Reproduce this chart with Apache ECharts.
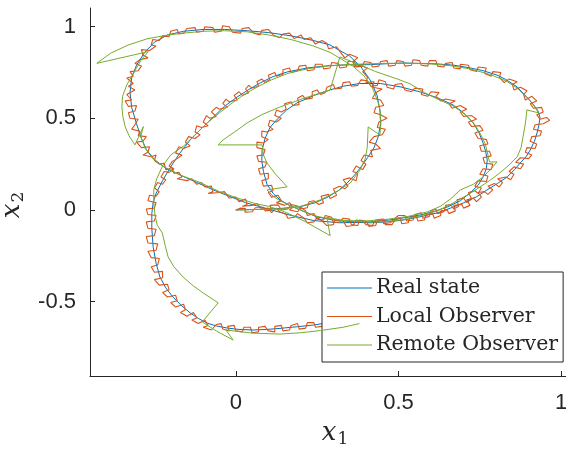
<!DOCTYPE html>
<html>
<head>
<meta charset="utf-8">
<script src="https://cdn.jsdelivr.net/npm/echarts@6/dist/echarts.min.js"></script>
<style>
html,body{margin:0;padding:0;background:#fff;}
#chart{width:566px;height:450px;}
</style>
</head>
<body>
<div id="chart"></div>
<script>
const seriesNames = ['Real state', 'Local Observer', 'Remote Observer'];
const xTicks = [0, 0.5, 1];
const yTicks = [-0.5, 0, 0.5, 1];

const realState = [
[0.0,0.0],[0.07,0.003],[0.136,0.008],[0.198,0.018],[0.245,0.04],[0.28,0.068],[0.315,0.105],[0.342,0.147],[0.365,0.19],[0.385,0.235],[0.405,0.285],[0.425,0.34],[0.438,0.4],[0.445,0.47],[0.443,0.546],[0.434,0.627],[0.413,0.709],[0.385,0.78],[0.35,0.84],[0.29,0.9],[0.238,0.925],[0.17,0.95],[0.1,0.968],[0.035,0.978],[-0.035,0.985],[-0.1,0.985],[-0.16,0.975],[-0.21,0.955],[-0.25,0.915],[-0.28,0.86],[-0.305,0.79],[-0.32,0.72],[-0.325,0.64],[-0.32,0.56],[-0.305,0.47],[-0.29,0.39],[-0.275,0.33],[-0.25,0.275],[-0.215,0.228],[-0.17,0.19],[-0.12,0.15],[-0.07,0.11],[-0.02,0.075],[0.03,0.04],[0.08,0.015],[0.12,-0.005],[0.17,-0.03],[0.24,-0.058],[0.32,-0.07],[0.41,-0.066],[0.47,-0.055],
[0.52,-0.042],[0.567,-0.027],[0.61,-0.008],[0.65,0.016],[0.69,0.05],[0.72,0.093],[0.745,0.135],[0.76,0.18],[0.77,0.225],[0.773,0.273],[0.768,0.32],[0.76,0.366],[0.748,0.42],[0.73,0.475],[0.7,0.53],[0.668,0.573],[0.62,0.612],[0.567,0.644],[0.505,0.672],[0.445,0.69],[0.38,0.69],[0.33,0.675],[0.29,0.655],[0.24,0.625],[0.188,0.584],[0.156,0.545],[0.13,0.5],[0.105,0.45],[0.09,0.39],[0.081,0.327],[0.08,0.27],[0.085,0.21],[0.096,0.14],[0.115,0.09],[0.136,0.055],[0.165,0.025],[0.198,0.0],[0.25,-0.038],[0.3,-0.055],[0.37,-0.066],[0.413,-0.07],
[0.465,-0.065],[0.515,-0.055],[0.57,-0.036],[0.619,-0.016],[0.66,0.01],[0.699,0.038],[0.74,0.072],[0.772,0.109],[0.805,0.145],[0.834,0.18],[0.857,0.22],[0.874,0.256],[0.892,0.29],[0.905,0.327],[0.918,0.375],[0.926,0.42],[0.932,0.465],[0.935,0.505],[0.929,0.54],[0.915,0.575],[0.9,0.605],[0.865,0.671],[0.83,0.712],[0.803,0.736],[0.76,0.76],[0.72,0.775],[0.67,0.79],[0.619,0.797],[0.565,0.8],[0.515,0.802],[0.465,0.798],[0.414,0.793],[0.35,0.792],[0.29,0.788],[0.22,0.775],[0.158,0.753],[0.115,0.728],[0.075,0.693],[0.04,0.657],[0.004,0.616],[-0.035,0.565],[-0.069,0.507],[-0.105,0.445],[-0.14,0.382],[-0.172,0.31],[-0.2,0.235],[-0.225,0.16],[-0.245,0.09],[-0.254,0.04],[-0.258,-0.02],
[-0.258,-0.1],[-0.254,-0.2],[-0.245,-0.29],[-0.233,-0.366],[-0.215,-0.425],[-0.193,-0.475],[-0.168,-0.52],[-0.14,-0.562],[-0.115,-0.592],[-0.088,-0.617],[-0.06,-0.633],[-0.027,-0.644],[0.01,-0.652],[0.053,-0.655],[0.095,-0.652],[0.136,-0.646],[0.19,-0.637],[0.238,-0.628],[0.268,-0.62],[0.32,-0.605],[0.37,-0.585]
];

const localObserver = [
[0.0,0.0],[0.015,0.01],[0.03,0.008],[0.028,-0.012],[0.05,-0.01],[0.06,0.012],[0.085,0.015],[0.09,-0.005],[0.11,-0.002],[0.105,0.025],[0.13,0.028],[0.14,0.0],[0.16,0.005],[0.17,0.03],[0.19,0.022],[0.2,0.005],
[0.22,0.012],[0.225,0.045],[0.24,0.05],[0.255,0.03],[0.27,0.04],[0.262,0.075],[0.285,0.085],[0.29,0.062],
[0.31,0.08],[0.3,0.115],[0.32,0.13],[0.335,0.115],[0.345,0.13],[0.33,0.165],[0.35,0.175],
[0.37,0.16],[0.375,0.2],[0.36,0.21],[0.37,0.24],[0.39,0.22],[0.4,0.25],
[0.385,0.27],[0.395,0.3],[0.42,0.29],[0.415,0.325],[0.445,0.335],[0.43,0.36],[0.41,0.37],
[0.425,0.4],[0.45,0.41],[0.46,0.44],[0.435,0.45],[0.44,0.48],[0.465,0.5],
[0.445,0.52],[0.425,0.53],[0.43,0.56],[0.455,0.57],
[0.445,0.6],[0.42,0.61],[0.43,0.64],[0.45,0.66],[0.42,0.67],[0.425,0.7],[0.4,0.695],[0.405,0.725],
[0.39,0.755],[0.405,0.775],[0.38,0.79],[0.365,0.78],[0.36,0.81],[0.375,0.83],[0.35,0.85],[0.335,0.83],
[0.32,0.865],[0.31,0.89],[0.285,0.88],[0.28,0.91],[0.265,0.925],
[0.245,0.905],[0.23,0.94],[0.21,0.93],[0.2,0.955],[0.18,0.935],[0.165,0.965],[0.145,0.96],
[0.135,0.94],[0.115,0.955],[0.1,0.985],[0.08,0.98],[0.075,0.955],[0.055,0.965],[0.04,0.995],[0.02,0.99],[0.015,0.965],
[-0.01,0.97],[-0.02,1.0],[-0.04,1.005],[-0.045,0.975],[-0.065,0.97],[-0.07,0.995],[-0.095,1.0],[-0.1,0.975],[-0.12,0.97],[-0.125,0.995],
[-0.15,0.99],[-0.16,0.965],[-0.175,0.96],[-0.18,0.985],[-0.2,0.975],[-0.205,0.945],[-0.225,0.95],
[-0.235,0.925],[-0.255,0.93],[-0.26,0.9],[-0.245,0.895],[-0.265,0.87],[-0.29,0.875],[-0.285,0.845],
[-0.27,0.83],[-0.295,0.82],[-0.31,0.8],[-0.29,0.785],[-0.3,0.76],[-0.325,0.755],[-0.315,0.73],[-0.335,0.72],
[-0.315,0.69],[-0.33,0.675],[-0.31,0.655],[-0.335,0.63],[-0.32,0.6],[-0.34,0.595],[-0.33,0.565],[-0.305,0.57],[-0.31,0.54],
[-0.33,0.53],[-0.325,0.5],[-0.3,0.495],[-0.31,0.465],[-0.32,0.44],[-0.295,0.43],[-0.3,0.405],[-0.275,0.4],[-0.285,0.375],[-0.305,0.37],
[-0.29,0.34],[-0.265,0.345],[-0.27,0.315],[-0.285,0.3],[-0.26,0.29],[-0.245,0.3],[-0.25,0.27],
[-0.235,0.25],[-0.22,0.255],[-0.215,0.22],[-0.195,0.225],[-0.19,0.2],[-0.175,0.205],[-0.165,0.18],[-0.18,0.17],
[-0.15,0.16],[-0.135,0.17],[-0.12,0.14],[-0.105,0.15],[-0.095,0.125],[-0.075,0.13],[-0.07,0.1],[-0.085,0.09],
[-0.05,0.095],[-0.035,0.1],[-0.02,0.065],[0.0,0.07],[0.01,0.045],[0.03,0.06],[0.035,0.03],[0.02,0.02],
[0.05,0.025],[0.065,0.035],[0.08,0.005],[0.1,0.01],[0.11,-0.015],[0.125,0.01],[0.135,-0.01],
[0.155,-0.025],[0.16,-0.045],[0.18,-0.04],[0.19,-0.02],[0.21,-0.045],[0.22,-0.07],[0.24,-0.065],[0.25,-0.04],[0.265,-0.06],
[0.28,-0.085],[0.3,-0.08],[0.305,-0.055],[0.33,-0.06],[0.34,-0.09],[0.36,-0.085],[0.37,-0.055],[0.39,-0.06],[0.4,-0.08],[0.42,-0.085],[0.43,-0.055],[0.45,-0.05],[0.455,-0.075],[0.475,-0.07],
[0.49,-0.045],[0.5,-0.03],[0.52,-0.03],[0.525,-0.06],[0.545,-0.055],[0.55,-0.025],[0.57,-0.015],[0.575,-0.045],[0.595,-0.035],[0.6,-0.005],[0.615,0.005],[0.62,-0.02],
[0.64,-0.01],[0.645,0.025],[0.66,0.03],[0.67,0.005],[0.685,0.02],[0.68,0.055],[0.7,0.065],[0.71,0.04],[0.725,0.06],[0.715,0.095],[0.735,0.105],
[0.745,0.09],[0.755,0.12],[0.735,0.13],[0.745,0.16],[0.77,0.155],[0.775,0.185],[0.75,0.195],[0.76,0.225],[0.785,0.22],
[0.79,0.25],[0.765,0.255],[0.76,0.285],[0.785,0.295],[0.78,0.32],[0.755,0.32],[0.75,0.35],[0.775,0.36],[0.77,0.385],
[0.745,0.39],[0.735,0.42],[0.76,0.435],[0.75,0.46],[0.725,0.455],[0.715,0.48],[0.74,0.495],
[0.725,0.515],[0.7,0.51],[0.69,0.535],[0.71,0.55],[0.69,0.57],[0.665,0.555],[0.655,0.58],[0.675,0.595],
[0.645,0.605],[0.63,0.595],[0.615,0.62],[0.625,0.64],[0.6,0.645],[0.59,0.62],[0.57,0.63],[0.575,0.66],[0.55,0.665],
[0.54,0.645],[0.52,0.655],[0.51,0.69],[0.49,0.685],[0.485,0.66],[0.465,0.67],[0.46,0.7],[0.44,0.71],[0.435,0.68],
[0.415,0.675],[0.405,0.705],[0.385,0.71],[0.375,0.68],[0.355,0.675],[0.35,0.7],[0.33,0.695],[0.325,0.665],[0.305,0.66],[0.3,0.685],[0.28,0.67],
[0.275,0.64],[0.26,0.63],[0.25,0.655],[0.235,0.645],[0.235,0.61],[0.215,0.605],[0.205,0.625],[0.19,0.61],[0.195,0.575],[0.175,0.57],
[0.17,0.59],[0.15,0.58],[0.155,0.55],[0.14,0.535],[0.125,0.545],[0.12,0.515],[0.14,0.5],[0.125,0.48],
[0.105,0.49],[0.1,0.46],[0.115,0.44],[0.095,0.425],[0.08,0.43],[0.08,0.4],[0.1,0.385],[0.085,0.365],
[0.065,0.37],[0.065,0.34],[0.09,0.33],[0.085,0.3],[0.065,0.295],[0.07,0.265],[0.095,0.26],
[0.09,0.235],[0.07,0.225],[0.075,0.195],[0.1,0.2],[0.1,0.17],[0.08,0.16],[0.085,0.13],[0.11,0.135],
[0.115,0.105],[0.1,0.095],[0.11,0.07],[0.13,0.08],[0.14,0.05],[0.125,0.04],
[0.15,0.025],[0.165,0.04],[0.175,0.015],[0.165,0.0],[0.19,-0.01],[0.2,0.015],[0.215,-0.005],
[0.22,-0.03],[0.24,-0.02],[0.25,-0.05],[0.27,-0.055],[0.275,-0.03],[0.295,-0.04],[0.3,-0.07],[0.32,-0.065],
[0.33,-0.045],[0.35,-0.05],[0.355,-0.08],[0.375,-0.085],[0.38,-0.055],[0.4,-0.06],[0.41,-0.09],
[0.43,-0.085],[0.435,-0.06],[0.455,-0.05],[0.46,-0.08],[0.48,-0.08],[0.49,-0.055],[0.505,-0.045],[0.51,-0.075],[0.53,-0.07],
[0.535,-0.04],[0.555,-0.035],[0.56,-0.06],[0.58,-0.055],[0.585,-0.025],[0.605,-0.02],[0.61,-0.045],[0.63,-0.03],
[0.63,-0.005],[0.65,0.0],[0.655,-0.02],[0.675,-0.005],[0.67,0.025],[0.695,0.03],[0.7,0.01],[0.72,0.025],
[0.71,0.055],[0.73,0.065],[0.74,0.045],[0.755,0.07],[0.745,0.095],[0.765,0.1],[0.775,0.085],[0.79,0.11],
[0.775,0.13],[0.795,0.145],[0.81,0.125],[0.82,0.15],[0.805,0.17],[0.83,0.18],[0.845,0.165],
[0.855,0.195],[0.84,0.21],[0.855,0.235],[0.875,0.225],[0.885,0.25],[0.86,0.26],
[0.875,0.285],[0.9,0.28],[0.91,0.3],[0.89,0.315],[0.895,0.34],[0.92,0.335],
[0.925,0.36],[0.905,0.375],[0.91,0.4],[0.935,0.405],[0.94,0.43],[0.915,0.44],
[0.92,0.465],[0.945,0.47],[0.965,0.49],[0.955,0.505],[0.935,0.495],[0.925,0.52],
[0.945,0.535],[0.94,0.56],[0.915,0.555],[0.905,0.58],[0.925,0.595],[0.91,0.62],[0.89,0.6],
[0.885,0.63],[0.895,0.65],[0.875,0.67],[0.855,0.655],[0.85,0.685],[0.865,0.7],[0.84,0.715],[0.825,0.695],
[0.81,0.725],[0.815,0.75],[0.79,0.755],[0.785,0.73],[0.765,0.745],[0.77,0.775],[0.745,0.78],[0.74,0.755],
[0.72,0.765],[0.715,0.79],[0.69,0.795],[0.69,0.77],[0.67,0.775],[0.665,0.805],[0.645,0.8],
[0.64,0.78],[0.62,0.785],[0.615,0.815],[0.595,0.815],[0.59,0.785],[0.57,0.79],[0.565,0.815],[0.545,0.82],
[0.54,0.79],[0.52,0.785],[0.515,0.81],[0.495,0.815],[0.49,0.79],[0.47,0.785],[0.465,0.815],[0.445,0.81],
[0.44,0.785],[0.42,0.78],[0.415,0.805],[0.395,0.81],[0.39,0.785],[0.37,0.78],[0.365,0.81],[0.345,0.81],[0.34,0.78],
[0.32,0.775],[0.315,0.8],[0.295,0.805],[0.29,0.775],[0.27,0.77],[0.265,0.795],[0.245,0.795],[0.24,0.765],[0.22,0.76],[0.215,0.79],
[0.195,0.785],[0.19,0.76],[0.17,0.75],[0.165,0.775],[0.145,0.765],[0.145,0.74],[0.125,0.73],[0.12,0.75],[0.1,0.735],
[0.105,0.71],[0.09,0.695],[0.08,0.715],[0.065,0.7],[0.07,0.675],[0.05,0.665],[0.04,0.68],[0.03,0.66],
[0.04,0.64],[0.02,0.625],[0.01,0.645],[-0.005,0.625],[0.005,0.6],[-0.02,0.59],[-0.03,0.605],[-0.04,0.58],[-0.025,0.56],
[-0.05,0.55],[-0.06,0.56],[-0.075,0.535],[-0.06,0.51],[-0.08,0.5],[-0.09,0.515],[-0.1,0.48],[-0.085,0.46],[-0.105,0.45],[-0.12,0.46],
[-0.125,0.425],[-0.11,0.41],[-0.125,0.39],[-0.145,0.4],[-0.155,0.37],[-0.14,0.35],[-0.16,0.335],[-0.175,0.345],[-0.185,0.31],[-0.165,0.3],
[-0.18,0.28],[-0.195,0.265],[-0.205,0.24],[-0.19,0.225],[-0.205,0.205],[-0.22,0.21],[-0.23,0.18],[-0.215,0.165],[-0.225,0.14],[-0.24,0.15],
[-0.25,0.12],[-0.235,0.1],[-0.245,0.075],[-0.265,0.08],[-0.27,0.05],[-0.245,0.04],[-0.25,0.01],[-0.275,0.005],[-0.27,-0.025],[-0.245,-0.03],
[-0.25,-0.06],[-0.275,-0.065],[-0.27,-0.1],[-0.245,-0.105],[-0.25,-0.14],[-0.275,-0.145],[-0.27,-0.18],[-0.24,-0.185],[-0.245,-0.22],[-0.27,-0.225],
[-0.26,-0.26],[-0.235,-0.265],[-0.24,-0.3],[-0.26,-0.31],[-0.25,-0.34],[-0.225,-0.335],[-0.225,-0.37],[-0.25,-0.38],
[-0.235,-0.41],[-0.21,-0.405],[-0.205,-0.435],[-0.225,-0.45],[-0.21,-0.475],[-0.185,-0.465],[-0.18,-0.495],
[-0.2,-0.505],[-0.185,-0.53],[-0.16,-0.515],[-0.155,-0.545],[-0.17,-0.56],[-0.15,-0.58],[-0.13,-0.56],
[-0.12,-0.59],[-0.135,-0.6],[-0.115,-0.62],[-0.095,-0.6],[-0.085,-0.63],[-0.1,-0.64],
[-0.075,-0.655],[-0.06,-0.625],[-0.045,-0.62],[-0.04,-0.65],[-0.02,-0.66],[-0.025,-0.635],[-0.005,-0.63],
[0.0,-0.66],[0.02,-0.665],[0.025,-0.64],[0.045,-0.64],[0.05,-0.67],[0.07,-0.665],[0.07,-0.64],
[0.09,-0.635],[0.1,-0.66],[0.12,-0.665],[0.12,-0.635],[0.14,-0.63],[0.145,-0.66],
[0.165,-0.655],[0.17,-0.63],[0.19,-0.62],[0.195,-0.65],[0.215,-0.645],[0.22,-0.615],[0.24,-0.615],[0.245,-0.64],
[0.265,-0.635],[0.27,-0.605],[0.29,-0.6],[0.295,-0.63],[0.32,-0.62],[0.325,-0.59],[0.35,-0.585],[0.37,-0.6]
];

const remoteObserver = [
[0.0,0.0],[0.07,0.003],[0.14,0.006],[0.2,0.02],[0.26,0.055],[0.31,0.1],[0.352,0.147],[0.382,0.218],[0.398,0.28],[0.404,0.34],[0.407,0.453],
[0.443,0.409],[0.446,0.47],[0.445,0.53],[0.437,0.59],[0.42,0.665],[0.395,0.73],[0.36,0.785],[0.29,0.86],[0.238,0.895],[0.17,0.93],[0.1,0.955],[0.035,0.972],[-0.035,0.978],[-0.1,0.975],[-0.16,0.965],[-0.207,0.955],[-0.27,0.935],[-0.331,0.9],[-0.385,0.855],[-0.427,0.8],
[-0.269,0.864],[-0.29,0.82],[-0.31,0.76],[-0.335,0.682],[-0.348,0.62],[-0.35,0.564],[-0.347,0.51],[-0.34,0.455],[-0.328,0.405],[-0.31,0.355],
[-0.284,0.455],[-0.292,0.4],[-0.278,0.335],[-0.255,0.28],[-0.22,0.235],[-0.17,0.19],[-0.11,0.15],[-0.05,0.1],[0.0,0.068],[0.06,0.035],[0.1,0.02],[0.136,0.0],[0.175,-0.03],[0.215,-0.065],[0.25,-0.1],[0.29,-0.14],
[0.28,-0.04],[0.33,-0.058],[0.4,-0.06],[0.47,-0.05],[0.53,-0.035],[0.59,-0.01],[0.629,0.02],[0.66,0.06],[0.69,0.109],[0.73,0.14],[0.76,0.18],[0.785,0.225],[0.803,0.262],
[0.78,0.262],[0.775,0.3],[0.767,0.36],[0.752,0.415],[0.733,0.47],[0.702,0.525],[0.668,0.568],[0.62,0.605],[0.58,0.64],[0.536,0.688],[0.496,0.715],[0.43,0.755],[0.37,0.8],[0.32,0.835],
[0.29,0.655],[0.21,0.61],[0.136,0.562],[0.08,0.52],[0.035,0.475],[0.0,0.43],[-0.039,0.382],[-0.054,0.355],
[0.081,0.355],[0.085,0.3],[0.096,0.256],[0.12,0.2],[0.158,0.126],
[0.096,0.109],[0.115,0.075],[0.136,0.05],[0.17,0.022],[0.205,-0.005],[0.25,-0.035],[0.3,-0.052],[0.37,-0.063],[0.42,-0.066],[0.47,-0.062],[0.52,-0.052],[0.57,-0.03],[0.62,-0.005],[0.66,0.03],[0.69,0.06],[0.72,0.09],[0.75,0.125],[0.78,0.16],[0.81,0.2],[0.84,0.245],[0.865,0.29],[0.877,0.34],[0.883,0.4],[0.89,0.47],[0.895,0.546],
[0.93,0.53],[0.92,0.56],[0.9,0.605],[0.865,0.665],[0.83,0.705],[0.78,0.74],[0.72,0.77],[0.66,0.787],[0.6,0.797],[0.53,0.8],[0.46,0.8],[0.4,0.797],[0.34,0.793],[0.28,0.785],[0.22,0.77],[0.16,0.745],[0.11,0.71],[0.07,0.675],[0.03,0.635],[-0.01,0.585],[-0.05,0.53],[-0.088,0.475],[-0.125,0.41],[-0.16,0.35],[-0.2,0.3],[-0.225,0.24],[-0.243,0.17],[-0.252,0.11],[-0.252,0.04],[-0.248,-0.03],[-0.242,-0.08],
[-0.226,-0.125],[-0.216,-0.2],[-0.208,-0.256],[-0.19,-0.31],[-0.162,-0.366],[-0.13,-0.415],[-0.1,-0.453],[-0.054,-0.507],
[-0.103,-0.611],[-0.06,-0.66],[-0.008,-0.71],
[-0.03,-0.655],[0.05,-0.672],[0.136,-0.677],[0.2,-0.67],[0.26,-0.658],[0.33,-0.64],[0.38,-0.62]
];

const colors = ['#0072BD', '#D95319', '#77AC30'];
const axisColor = '#262626';

const chart = echarts.init(document.getElementById('chart'), null, {renderer: 'canvas'});
const mkSeries = (name, data, color, width, z) => ({
  name: name, type: 'line', data: data, symbol: 'none', showSymbol: false,
  lineStyle: {color: color, width: width}, itemStyle: {color: color},
  z: z, animation: false, clip: true
});

chart.setOption({
  animation: false,
  backgroundColor: '#ffffff',
  grid: {left: 90, right: 0, top: 8, bottom: 74, containLabel: false, outerBoundsMode: 'none'},
  xAxis: {
    type: 'value', min: -0.448, max: 1.015,
    name: '{a|x}{b|1}', nameLocation: 'middle', nameGap: 40,
    nameTextStyle: {
      padding: [0, 0, 0, 14],
      rich: {
        a: {fontFamily: 'DejaVu Serif', fontStyle: 'italic', fontSize: 26, color: axisColor, lineHeight: 30},
        b: {fontFamily: 'DejaVu Serif', fontSize: 17, color: axisColor, lineHeight: 30, padding: [12, 0, 0, 1]}
      }
    },
    axisLine: {show: true, onZero: false, lineStyle: {color: axisColor, width: 1}},
    axisTick: {show: true, inside: true, length: 5, customValues: xTicks, lineStyle: {color: axisColor}},
    axisLabel: {customValues: xTicks, margin: 16, fontFamily: 'Liberation Sans, Arial', fontSize: 22, color: axisColor,
      formatter: v => String(v)},
    splitLine: {show: false}
  },
  yAxis: {
    type: 'value', min: -0.906, max: 1.102,
    name: '{a|x}{b|2}', nameLocation: 'middle', nameGap: 58, nameRotate: 90,
    nameTextStyle: {
      padding: [0, 26, 0, 0],
      rich: {
        a: {fontFamily: 'DejaVu Serif', fontStyle: 'italic', fontSize: 26, color: axisColor, lineHeight: 30},
        b: {fontFamily: 'DejaVu Serif', fontSize: 17, color: axisColor, lineHeight: 30, padding: [12, 0, 0, 1]}
      }
    },
    axisLine: {show: true, onZero: false, lineStyle: {color: axisColor, width: 1}},
    axisTick: {show: true, inside: true, length: 5, customValues: yTicks, lineStyle: {color: axisColor}},
    axisLabel: {customValues: yTicks, margin: 14, fontFamily: 'Liberation Sans, Arial', fontSize: 22, color: axisColor,
      formatter: v => String(v)},
    splitLine: {show: false}
  },
  legend: {
    data: seriesNames,
    orient: 'vertical',
    left: 322, top: 272,
    itemWidth: 45, itemHeight: 14, itemGap: 6.5,
    padding: [5, 5, 6, 5],
    backgroundColor: '#ffffff',
    borderColor: '#262626', borderWidth: 1, borderRadius: 0,
    icon: 'path://M0,7 L45,7 L45,8 L0,8 Z',
    textStyle: {fontFamily: 'DejaVu Serif', fontSize: 20.5, color: '#262626', lineHeight: 22, padding: [0, 0, 0, -1]},
    selectedMode: false
  },
  series: [
    mkSeries(seriesNames[0], realState, colors[0], 1, 2),
    mkSeries(seriesNames[1], localObserver, colors[1], 1.1, 3),
    mkSeries(seriesNames[2], remoteObserver, colors[2], 1, 4)
  ]
});
</script>
</body>
</html>
